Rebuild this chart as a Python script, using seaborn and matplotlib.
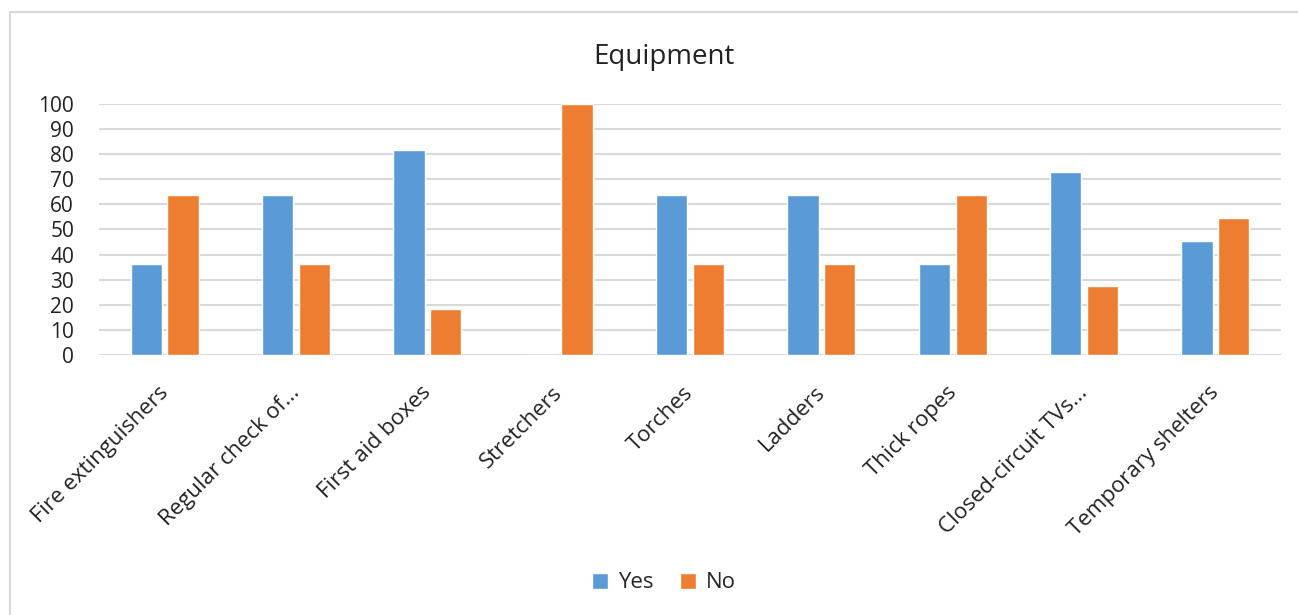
import pandas as pd
import matplotlib.pyplot as plt
import matplotlib.transforms as mtransforms
import seaborn as sns
from matplotlib.lines import Line2D

categories = ['Fire extinguishers', 'Regular check of...', 'First aid boxes', 'Stretchers',
              'Torches', 'Ladders', 'Thick ropes', 'Closed-circuit TVs...', 'Temporary shelters']
yes_values = [36.4, 63.6, 81.8, 0, 63.6, 63.6, 36.4, 72.7, 45.5]
no_values = [63.6, 36.4, 18.2, 100, 36.4, 36.4, 63.6, 27.3, 54.5]

df = pd.DataFrame({'Item': categories * 2,
                   'Answer': ['Yes'] * len(categories) + ['No'] * len(categories),
                   'Percent': yes_values + no_values})

sns.set_style('white')
plt.rcParams['font.family'] = ['Open Sans', 'DejaVu Sans']

fig = plt.figure(figsize=(12.98, 6.15), dpi=100)
ax = fig.add_axes([0.0763, 0.4228, 0.9107, 0.4082])

sns.barplot(data=df, x='Item', y='Percent', hue='Answer', ax=ax,
            palette={'Yes': '#5B9BD5', 'No': '#ED7D31'},
            width=0.56, gap=0.15, saturation=1, errorbar=None)

ax.set_ylim(0, 100)
ax.set_yticks(range(0, 101, 10))
ax.yaxis.grid(True, color='#d9d9d9', linewidth=1.5)
ax.set_axisbelow(True)
for s in ax.spines.values():
    s.set_visible(False)
ax.tick_params(axis='y', length=0, labelsize=15, colors='#222222', pad=18)
ax.tick_params(axis='x', length=0, labelsize=16, colors='#222222', pad=16)
shift = mtransforms.ScaledTranslation(-0.07, -0.05, fig.dpi_scale_trans)
for lbl in ax.get_xticklabels():
    lbl.set_rotation(45)
    lbl.set_ha('right')
    lbl.set_rotation_mode('anchor')
    lbl.set_transform(lbl.get_transform() + shift)
ax.set_xlabel('')
ax.set_ylabel('')

# chart title, centred on the whole chart area
fig.text(664 / 1298, 1 - 57 / 615, 'Equipment', fontsize=20, color='#222222',
         ha='center', va='center')

ax.legend(loc='center', bbox_to_anchor=(664 / 1298, 1 - 583 / 615), bbox_transform=fig.transFigure,
          ncol=2, frameon=False, fontsize=16, handlelength=0.7, handleheight=0.7,
          handletextpad=0.45, columnspacing=1.2)

# outer chart border (left and top only visible)
fig.add_artist(Line2D([10 / 1298, 10 / 1298], [0, 1 - 12 / 615], transform=fig.transFigure,
                      color='#d9d9d9', linewidth=1.5))
fig.add_artist(Line2D([10 / 1298, 1], [1 - 12 / 615, 1 - 12 / 615], transform=fig.transFigure,
                      color='#d9d9d9', linewidth=1.5))

plt.savefig('out.png', dpi=100)
